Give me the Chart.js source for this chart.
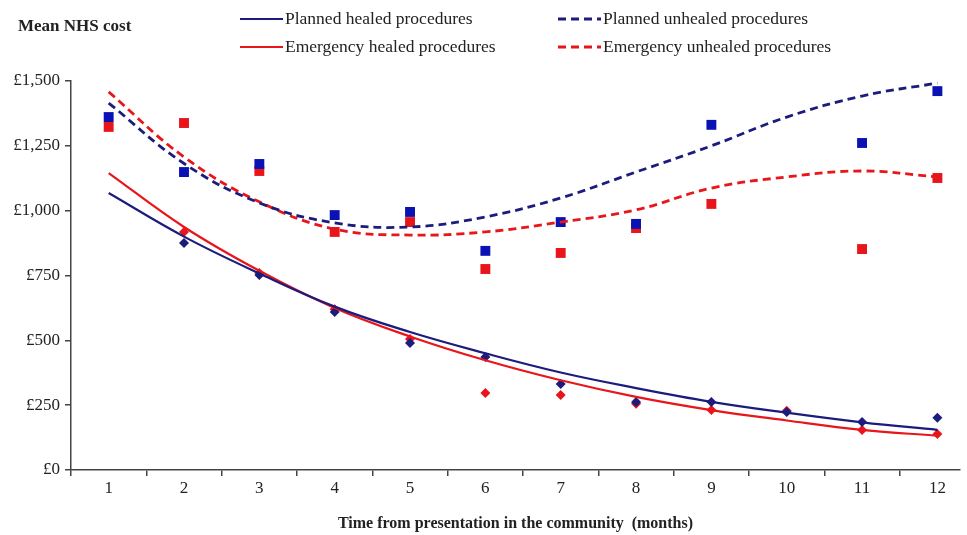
<!DOCTYPE html>
<html>
<head>
<meta charset="utf-8">
<script src="https://cdn.jsdelivr.net/npm/chart.js@4.4.0/dist/chart.umd.min.js"></script>
<style>
    html, body { margin: 0; padding: 0; background: #fff; }
</style>
</head>
<body>
<canvas id="chart-area" width="967" height="535"></canvas>
<script>
// months since presentation
var months = [1, 2, 3, 4, 5, 6, 7, 8, 9, 10, 11, 12];

// fitted trend lines
var plannedHealedFit     = [1068, 900, 758, 630, 532, 450, 376, 316, 263, 221, 184, 155];
var emergencyHealedFit   = [1145, 937, 768, 625, 515, 423, 346, 282, 231, 191, 155, 132];
var plannedUnhealedFit   = [1415, 1182, 1030, 953, 937, 976, 1049, 1149, 1250, 1361, 1442, 1492];
var emergencyUnhealedFit = [1458, 1207, 1034, 929, 906, 918, 956, 1003, 1087, 1130, 1153, 1130];

// observed means (null = no marker)
var plannedHealedObs     = [null, 875, 752, 609, 490, 436, 332, 262, 262, 224, 185, 201];
var emergencyHealedObs   = [null, 918, 760, 620, 505, 297, 289, 255, 231, 228, 154, 139];
var plannedUnhealedObs   = [1361, 1149, 1180, 983, 995, 845, 956, 949, 1331, null, 1261, 1461];
var emergencyUnhealedObs = [1323, 1338, 1153, 918, 956, 775, 837, 933, 1026, null, 852, 1126];

var yTicks = [0, 250, 500, 750, 1000, 1250, 1500];

var navy = '#1c1c7c';
var blue = '#0a12b4';
var red = '#e8151b';

function points(values) {
    var out = [];
    values.forEach(function(v, i) {
        if (v !== null) out.push({ x: months[i], y: v });
    });
    return out;
}

function trend(label, values, color, dash) {
    return {
        label: label,
        data: points(values),
        showLine: true,
        borderColor: color,
        borderWidth: dash ? 2.8 : 2.2,
        borderDash: dash ? [8, 5] : [],
        pointRadius: 0,
        tension: 0.4,
        fill: false
    };
}

function marks(label, values, color, style, r) {
    return {
        label: label,
        data: points(values),
        showLine: false,
        pointStyle: style,
        pointRadius: r,
        pointBackgroundColor: color,
        pointBorderColor: color,
        pointBorderWidth: 0
    };
}

// legend: [x, y] of each entry's sample line
var legendSpots = [[240, 19], [558, 19], [240, 47], [558, 47]];

var legendPlugin = {
    id: 'fitLegend',
    afterDraw: function(chart) {
        var ctx = chart.ctx;
        ctx.save();
        ctx.textBaseline = 'middle';
        ctx.fillStyle = '#222';
        ctx.font = '17.5px "Liberation Serif"';
        legendSpots.forEach(function(spot, i) {
            var ds = chart.data.datasets[i];
            ctx.strokeStyle = ds.borderColor;
            ctx.lineWidth = ds.borderWidth;
            ctx.setLineDash(ds.borderDash);
            ctx.beginPath();
            ctx.moveTo(spot[0], spot[1]);
            ctx.lineTo(spot[0] + 43, spot[1]);
            ctx.stroke();
            ctx.setLineDash([]);
            ctx.fillText(ds.label, spot[0] + 45, spot[1]);
        });
        ctx.font = 'bold 17px "Liberation Serif"';
        ctx.fillText('Mean NHS cost', 18, 27);
        ctx.restore();
    }
};

var config = {
    type: 'scatter',
    data: {
        datasets: [
            trend('Planned healed procedures', plannedHealedFit, navy, false),
            trend('Planned unhealed procedures', plannedUnhealedFit, navy, true),
            trend('Emergency healed procedures', emergencyHealedFit, red, false),
            trend('Emergency unhealed procedures', emergencyUnhealedFit, red, true),
            marks('Planned healed', plannedHealedObs, navy, 'rectRot', 5),
            marks('Emergency healed', emergencyHealedObs, red, 'rectRot', 5),
            marks('Planned unhealed', plannedUnhealedObs, blue, 'rect', 7),
            marks('Emergency unhealed', emergencyUnhealedObs, red, 'rect', 7)
        ]
    },
    options: {
        responsive: false,
        animation: false,
        layout: { padding: { top: 81, left: 0, right: 0, bottom: 0 } },
        plugins: {
            legend: { display: false },
            tooltip: { enabled: false }
        },
        scales: {
            x: {
                type: 'linear',
                min: 0.5,
                max: 12.3,
                afterBuildTicks: function(scale) {
                    scale.ticks = months.map(function(m) { return { value: m }; });
                },
                afterFit: function(scale) { scale.height = 65; },
                grid: { drawOnChartArea: false, drawTicks: true, tickLength: 6, offset: true, color: '#444', lineWidth: 1.5 },
                border: { display: true, color: '#444', width: 1.5 },
                ticks: { color: '#222', padding: 2, font: { family: 'Liberation Serif', size: 17 } },
                title: {
                    display: true,
                    text: 'Time from presentation in the community  (months)',
                    color: '#222',
                    padding: { top: 4, bottom: 2 },
                    font: { family: 'Liberation Serif', size: 16, weight: 'bold' }
                }
            },
            y: {
                min: 0,
                max: 1500,
                afterBuildTicks: function(scale) {
                    scale.ticks = yTicks.map(function(v) { return { value: v }; });
                },
                afterFit: function(scale) { scale.width = 71; },
                grid: { drawOnChartArea: false, drawTicks: true, tickLength: 6, color: '#444', lineWidth: 1.5 },
                border: { display: true, color: '#444', width: 1.5 },
                ticks: {
                    color: '#222',
                    padding: 5,
                    font: { family: 'Liberation Serif', size: 17 },
                    callback: function(v) { return '£' + v.toLocaleString('en-GB'); }
                }
            }
        }
    },
    plugins: [legendPlugin]
};

window.onload = function() {
    var ctx = document.getElementById('chart-area').getContext('2d');
    window.myChart = new Chart(ctx, config);
};
</script>
</body>
</html>
